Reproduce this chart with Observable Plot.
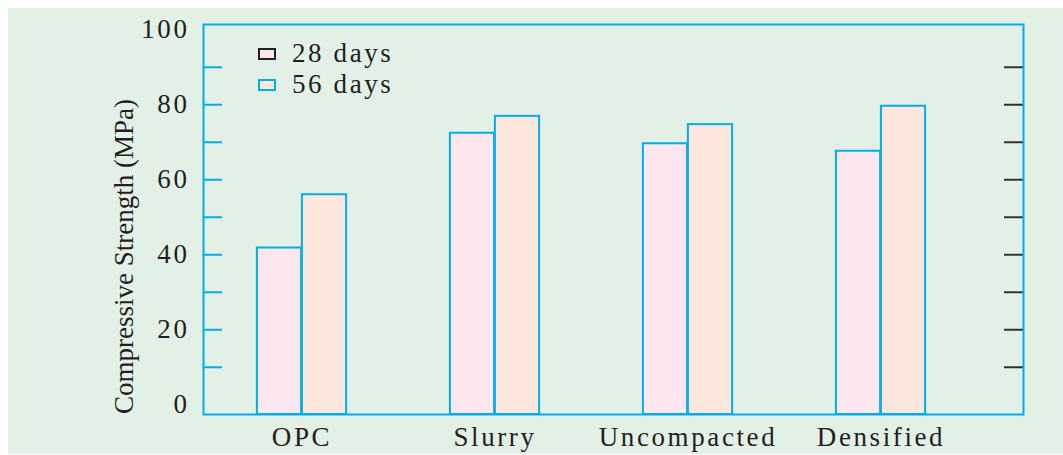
<!DOCTYPE html>
<html>
<head>
<meta charset="utf-8">
<script src="https://cdn.jsdelivr.net/npm/d3@7"></script>
<script src="https://cdn.jsdelivr.net/npm/@observablehq/plot@0.6"></script>
<style>
  html, body { margin: 0; padding: 0; background: #ffffff; }
  #wrap { position: relative; width: 1063px; height: 455px; overflow: hidden; }
  #bg { position: absolute; left: 8px; top: 8px; width: 1055px; height: 446px; background: #e3f0e5; }
  #chart { position: absolute; left: 0; top: 0; }
  #chart g[aria-label="text"] { letter-spacing: 0; }
  #legend { position: absolute; left: 258px; top: 38px; font-family: "Liberation Serif", serif; font-size: 27px; letter-spacing: 2.6px; color: #231f20; }
  .row { position: relative; height: 31px; }
  .sw { position: absolute; left: 0; width: 18px; height: 12px; box-sizing: border-box; border: 2px solid; }
  .lab { position: absolute; left: 34px; white-space: nowrap; line-height: 1; }
</style>
</head>
<body>
<div id="wrap">
  <div id="bg"></div>
  <div id="chart"></div>
  <div id="legend"></div>
</div>
<script>
// ---- data ----
const categories = ["OPC", "Slurry", "Uncompacted", "Densified"];
const days28 = [41.8, 72.4, 69.6, 67.6];
const days56 = [56.0, 76.9, 74.7, 79.6];
const seriesLabels = ["28 days", "56 days"];
const yTickLabels = [0, 20, 40, 60, 80, 100];
const yMinorTicks = [10, 20, 30, 40, 50, 60, 70, 80, 90];
const yTitle = "Compressive Strength (MPa)";

// ---- styling ----
const blue = "#00aeef";
const ink = "#231f20";
const fills = ["#fde6ee", "#fde6db"];
const legendStrokes = [ink, blue];

const yDomain = [-2.6, 101.4];
const W = 1063, H = 455;
const mL = 203, mR = 40, mT = 24, mB = 41;
const frameW = W - mL - mR;
const barW = 45;

const rows28 = categories.map((c, i) => ({category: c, value: days28[i]}));
const rows56 = categories.map((c, i) => ({category: c, value: days56[i]}));

const plot = Plot.plot({
  width: W,
  height: H,
  marginLeft: mL,
  marginRight: mR,
  marginTop: mT,
  marginBottom: mB,
  style: {fontFamily: "'Liberation Serif', serif", fontSize: "27px", color: ink, background: "transparent", letterSpacing: "2.6px"},
  x: {domain: categories, type: "band", padding: 0, range: [203.2, 978.4], label: null},
  y: {domain: yDomain, label: null},
  marks: [
    Plot.barY(rows28, {x: "category", y1: yDomain[0], y2: "value", fill: fills[0], stroke: blue, strokeWidth: 2,
      insetLeft: 193.8 / 2 - barW, insetRight: 193.8 / 2}),
    Plot.barY(rows56, {x: "category", y1: yDomain[0], y2: "value", fill: fills[1], stroke: blue, strokeWidth: 2,
      insetLeft: 193.8 / 2, insetRight: 193.8 / 2 - barW}),
    Plot.tickY(yMinorTicks, {y: d => d, stroke: blue, strokeWidth: 2, insetRight: frameW - 19}),
    Plot.tickY(yMinorTicks, {y: d => d, stroke: "#333", strokeWidth: 2, insetLeft: frameW - 19}),
    Plot.frame({stroke: blue, strokeWidth: 2}),
    Plot.axisY(yTickLabels, {anchor: "left", tickSize: 0, tickPadding: 14, label: null, fill: ink}),
    Plot.axisX({anchor: "bottom", tickSize: 0, tickPadding: 12, label: null, fill: ink}),
    Plot.text([yTitle], {frameAnchor: "left", rotate: -90, dx: -79, dy: 37, fontSize: 27, fill: ink, textAnchor: "middle", lineAnchor: "middle"})
  ]
});
document.getElementById("chart").appendChild(plot);

// ---- legend ----
const legend = document.getElementById("legend");
seriesLabels.forEach((s, i) => {
  const row = document.createElement("div");
  row.className = "row";
  const sw = document.createElement("span");
  sw.className = "sw";
  sw.style.background = fills[i];
  sw.style.borderColor = legendStrokes[i];
  sw.style.top = "10px";
  const lab = document.createElement("span");
  lab.className = "lab";
  lab.style.top = "2px";
  lab.textContent = s;
  row.appendChild(sw);
  row.appendChild(lab);
  legend.appendChild(row);
});
</script>
</body>
</html>
